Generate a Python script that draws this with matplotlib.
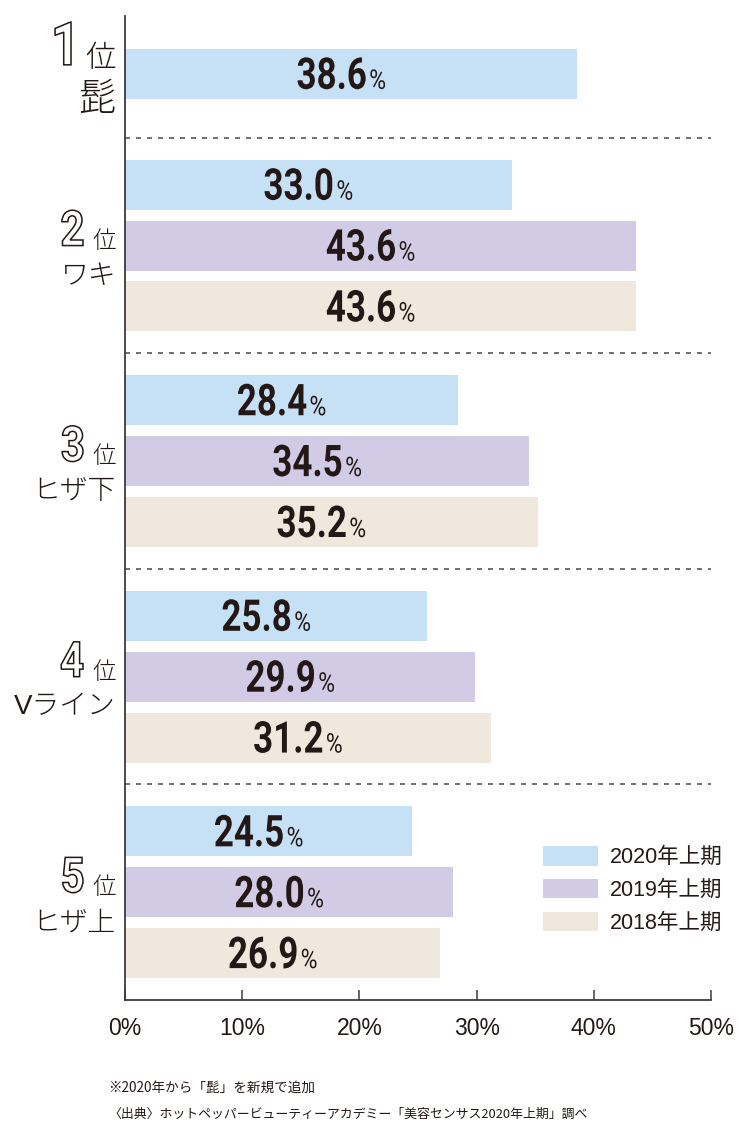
import matplotlib
matplotlib.use('Agg')
import matplotlib.pyplot as plt
import matplotlib.patheffects as pe
from matplotlib import font_manager
from matplotlib.font_manager import FontProperties
from matplotlib.transforms import offset_copy, Affine2D
from matplotlib.patches import Patch, PathPatch
from matplotlib.textpath import TextPath

# data
ranks = ['1', '2', '3', '4', '5']
items = ['髭', 'ワキ', 'ヒザ下', 'Vライン', 'ヒザ上']
years = ['2020年上期', '2019年上期', '2018年上期']
v2020 = [38.6, 33.0, 28.4, 25.8, 24.5]
v2019 = [None, 43.6, 34.5, 29.9, 28.0]
v2018 = [None, 43.6, 35.2, 31.2, 26.9]
xticks = [0, 10, 20, 30, 40, 50]
xticklabels = ['0%', '10%', '20%', '30%', '40%', '50%']
notes = ['※2020年から「髭」を新規で追加',
         '〈出典〉ホットペッパービューティーアカデミー「美容センサス2020年上期」調べ']

colors = ['#c6e0f5', '#d1cbe6', '#f0e8dd']
ink = '#231815'


def pick(names):
    avail = {f.name for f in font_manager.fontManager.ttflist}
    for n in names:
        if n in avail:
            return n
    return 'DejaVu Sans'


class Squeeze(pe.AbstractPathEffect):
    """squeeze text horizontally (no condensed font installed)"""

    def __init__(self, sx, frac):
        super().__init__()
        self.sx, self.frac = sx, frac

    def draw_path(self, renderer, gc, tpath, affine, rgbFace=None):
        x0 = affine.get_matrix()[0, 2]
        right = tpath.get_extents(affine).x1
        shift = (1 - self.sx) * (right - x0) * self.frac
        a = affine + Affine2D().translate(-x0, 0).scale(self.sx, 1).translate(x0 + shift, 0)
        renderer.draw_path(gc, tpath, a, rgbFace)


bold = pick(['Roboto', 'Liberation Sans', 'DejaVu Sans'])
latin = pick(['Liberation Sans', 'Roboto', 'DejaVu Sans'])
cjk = 'Noto Sans CJK JP'
plt.rcParams['font.family'] = [cjk, 'DejaVu Sans']

fig = plt.figure(figsize=(7.5, 11.45), dpi=100)
ax = fig.add_axes([125 / 750, 1 - 1000 / 1145, 586 / 750, 984 / 1145])

# vertical layout of the bar slots
series = [v2020, v2019, v2018]
bar_h = 0.82
y = 0.95
seps = []
rows = []  # (group, series index, y)
mids = []
for g in range(len(items)):
    vals = [s[g] for s in series if s[g] is not None]
    ys = []
    for k in range(len(vals)):
        rows.append((g, k, y))
        ys.append(y)
        y += 1
    mids.append(ys[len(ys) // 2])
    y -= 1
    if g < len(items) - 1:
        gap = 1.05 if g == 0 else 0.77
        seps.append(y + gap)
        y = y + gap + 0.77
bottom = y + 0.77
px = 984 / bottom  # pixels per unit

for g, k, yy in rows:
    val = series[k][g]
    ax.barh(yy, val, height=bar_h, color=colors[k], zorder=2)
    cx = val / 2
    t1 = offset_copy(ax.transData, fig, x=16, y=-15, units='dots')
    t2 = offset_copy(ax.transData, fig, x=18, y=-15, units='dots')
    ax.text(cx, yy, f'{val:.1f}', transform=t1, ha='right', va='baseline',
            fontsize=31.5, fontweight='bold', family=bold, color=ink, zorder=3,
            path_effects=[Squeeze(0.8, 1)])
    ax.text(cx, yy, '%', transform=t2, ha='left', va='baseline',
            fontsize=19.5, family=bold, color=ink, zorder=3,
            path_effects=[Squeeze(0.85, 0)])

for s in seps:
    ax.axhline(s, color='#595757', lw=1.2, linestyle=(0, (3, 3.6)), zorder=1)

ax.set_xlim(0, 50)
ax.set_ylim(bottom, 0)
ax.set_xticks(xticks)
ax.set_xticklabels(xticklabels, family=latin, fontsize=16.5, color=ink)
ax.set_yticks([])
ax.tick_params(axis='x', direction='in', length=7.5, width=1.1, color='#3e3a39', pad=12)
for side in ['top', 'right']:
    ax.spines[side].set_visible(False)
for side in ['left', 'bottom']:
    ax.spines[side].set_color('#3e3a39')
    ax.spines[side].set_linewidth(1.3)

# rank labels on the left
ytr = ax.get_yaxis_transform()
fig.canvas.draw()
rend = fig.canvas.get_renderer()
fp_digit = FontProperties(family=bold, weight='bold')
for g in range(len(items)):
    m = mids[g]
    if g == 0:
        em, isize, csize, dx = 60, 22, 27, 71
        base_d, base_c = -9 / px, 36 / px
    else:
        em, isize, csize, dx = 49, 17, 20, 83
        base_d, base_c = 0, 38 / px
    # outlined rank number
    tp = TextPath((0, 0), ranks[g], size=em, prop=fp_digit)
    ext = tp.get_extents()
    xd, yd = ytr.transform(((dx - 125) / 586, m + base_d))
    sx = 0.86
    tr = Affine2D().scale(sx, 1).translate(xd - ext.x1 * sx, yd)
    fig.add_artist(PathPatch(tp, facecolor='white', edgecolor=ink, lw=1.1, transform=tr))
    ax.text((116 - 125) / 586, m + base_d + 2 / px, '位', transform=ytr, ha='right',
            va='baseline', fontsize=isize, color=ink, fontweight='light')
    t = ax.text((116 - 125) / 586, m + base_c, items[g], transform=ytr, ha='right',
                va='baseline', fontsize=csize, color=ink, family=[latin, cjk],
                fontweight='light')
    w = t.get_window_extent(renderer=rend).width
    if w > 104:
        t.set_fontsize(csize * 104 / w)

# legend
handles = [Patch(facecolor=c, edgecolor='none') for c in colors]
fig.legend(handles, years, loc='upper left', bbox_to_anchor=(543 / 750, 1 - 846 / 1145),
           frameon=False, borderpad=0, borderaxespad=0, handlelength=2.56, handleheight=1.02,
           handletextpad=0.56, labelspacing=0.5,
           prop={'family': [latin, cjk], 'size': 15.5}, labelcolor=ink)

# footnotes
fig.text(108 / 750, 1 - 1088 / 1145, notes[0], ha='left', va='center', fontsize=9.8, color=ink)
fig.text(108 / 750, 1 - 1114 / 1145, notes[1], ha='left', va='center', fontsize=9.3, color=ink)

fig.savefig('out.png', dpi=100)
